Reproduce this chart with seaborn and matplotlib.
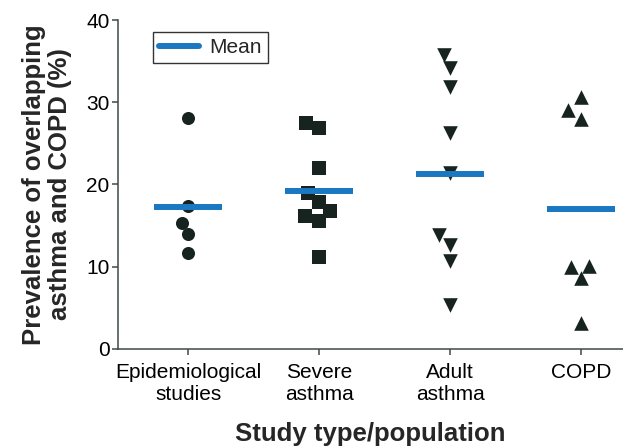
import numpy as np
import pandas as pd
import seaborn as sns
import matplotlib.pyplot as plt
from matplotlib.lines import Line2D

# values (%)
groups = ["Epidemiological\nstudies", "Severe\nasthma", "Adult\nasthma", "COPD"]
epidemiological = [28.1, 17.4, 15.3, 13.9, 11.6]
severe_asthma = [27.5, 26.9, 22.0, 18.9, 17.9, 16.7, 16.1, 15.6, 11.2]
adult_asthma = [35.8, 34.2, 31.8, 26.3, 21.4, 13.8, 12.6, 10.7, 5.3]
copd = [30.7, 29.0, 28.0, 10.1, 9.9, 8.6, 3.1]
markers = ["o", "s", "v", "^"]

df = pd.concat([
    pd.DataFrame({"group": g, "value": v})
    for g, v in zip(groups, [epidemiological, severe_asthma, adult_asthma, copd])
], ignore_index=True)
means = df.groupby("group", sort=False)["value"].mean()

sns.set_style("ticks")
plt.rcParams["font.family"] = ["Liberation Sans", "DejaVu Sans"]

dot_color = "#16231f"
mean_color = "#1a78c2"
axis_color = "#3d4a48"

fig = plt.figure(figsize=(6.23, 4.47), dpi=100)
ax = fig.add_axes([0.189, 0.22, 0.811, 0.735])

sizes = {"o": 9.4, "s": 10, "v": 10.5, "^": 10.5}
for g, m in zip(groups, markers):
    sns.swarmplot(data=df[df["group"] == g], x="group", y="value", order=groups,
                  marker=m, color=dot_color, size=sizes[m], linewidth=0, ax=ax)

for i, g in enumerate(groups):
    ax.hlines(means[g], i - 0.26, i + 0.26, color=mean_color, linewidth=4.3, zorder=5)

ax.set_xlim(-0.54, 3.32)
ax.set_ylim(0, 40)
ax.set_yticks([0, 10, 20, 30, 40])

sns.despine(ax=ax)
for side in ["left", "bottom"]:
    ax.spines[side].set_color(axis_color)
    ax.spines[side].set_linewidth(1.1)
ax.tick_params(colors=axis_color, labelcolor="black", width=1.1, length=4, labelsize=15)
ax.tick_params(axis="y", pad=2)
ax.tick_params(axis="x", pad=6)
for lbl in ax.get_xticklabels():
    lbl.set_linespacing(1.25)

ax.set_xlabel("Study type/population", fontsize=18.5, fontweight="bold")
ax.set_ylabel("Prevalence of overlapping\nasthma and COPD (%)", fontsize=18.5, fontweight="bold",
              linespacing=1.1)
ax.xaxis.set_label_coords(0.5, -0.222)
ax.yaxis.set_label_coords(-0.091, 0.5)

handle = Line2D([], [], color=mean_color, linewidth=4.3)
leg = ax.legend([handle], ["Mean"], loc="upper left", bbox_to_anchor=(0.07, 0.965),
                fontsize=15, frameon=True, fancybox=False, handlelength=1.9,
                handletextpad=0.5, borderpad=0.3, borderaxespad=0)
leg.get_frame().set_edgecolor("black")
leg.get_frame().set_linewidth(1.0)

fig.savefig("out.png", dpi=100)
